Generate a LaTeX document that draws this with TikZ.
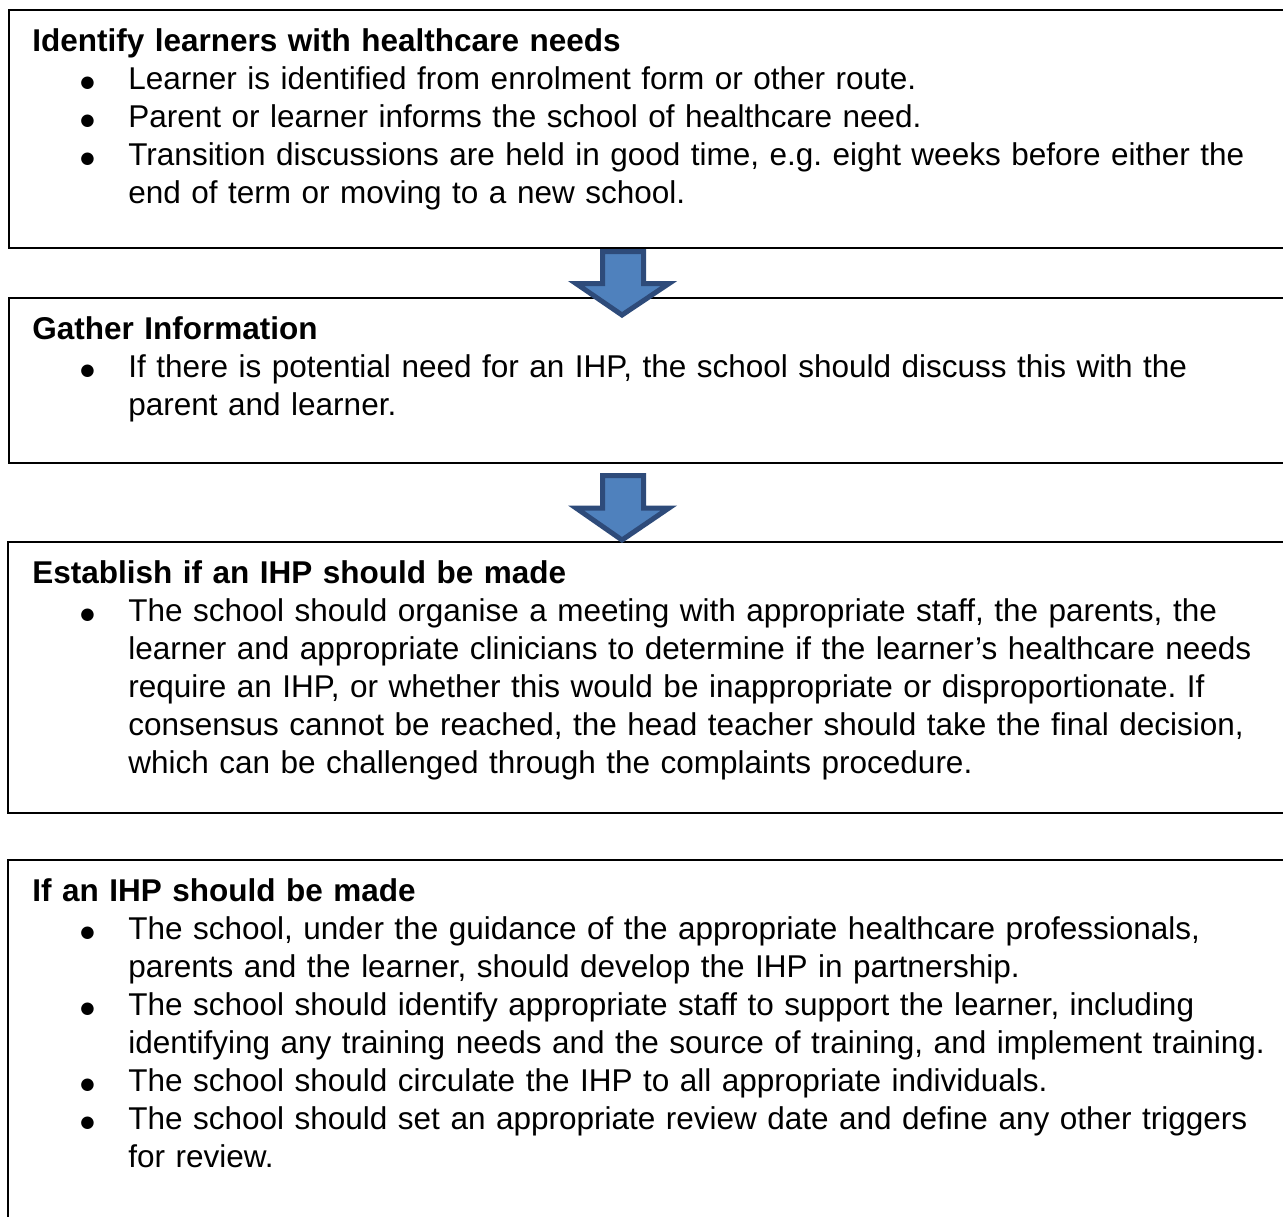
\documentclass[tikz,border=0pt]{standalone}
\usepackage{fontspec}
\setmainfont{Liberation Sans}
\newfontfamily\dotfont{DejaVu Sans}
\usepackage{tikz}

\definecolor{arrowfill}{HTML}{4F81BD}
\definecolor{arrowline}{HTML}{2E4B7A}

\newcommand{\bitem}{\hspace*{24pt}\makebox[24pt][l]{\raisebox{1pt}{\dotfont\fontsize{8.2}{9}\selectfont ●}}}
\newcommand{\bcont}{\hspace*{48pt}}

\tikzset{
    panel/.style={draw=black, line width=1pt},
    boxtext/.style={anchor=base west, inner sep=0pt, text width=640pt, align=left,
        font=\fontsize{15.75}{19}\selectfont\frenchspacing},
    blockarrow/.style={draw=arrowline, fill=arrowfill, line width=2.5pt, line join=miter}
}

\begin{document}
\begin{tikzpicture}[x=0.5pt, y=-0.5pt]
    \useasboundingbox (0,0) rectangle (1283,1216);
    \fill[white] (0,0) rectangle (1283,1216);
    \clip (0,0) rectangle (1283,1216);

    % Boxes
    \draw[panel] (9,10)  rectangle (1300,248);
    \draw[panel] (9,298) rectangle (1300,463);
    \draw[panel] (8,542) rectangle (1300,813);
    \draw[panel] (8,860) rectangle (1300,1300);

    % Texts
    \node[boxtext] (identify) at (32,51) {%
        \textbf{Identify learners with healthcare needs}\\
        \bitem Learner is identified from enrolment form or other route.\\
        \bitem Parent or learner informs the school of healthcare need.\\
        \bitem Transition discussions are held in good time, e.g. eight weeks before either the\\
        \bcont end of term or moving to a new school.};

    \node[boxtext] (gather) at (32,339) {%
        \textbf{Gather Information}\\
        \bitem If there is potential need for an IHP, the school should discuss this with the\\
        \bcont parent and learner.};

    \node[boxtext] (establish) at (32,583) {%
        \textbf{Establish if an IHP should be made}\\
        \bitem The school should organise a meeting with appropriate staff, the parents, the\\
        \bcont learner and appropriate clinicians to determine if the learner’s healthcare needs\\
        \bcont require an IHP, or whether this would be inappropriate or disproportionate. If\\
        \bcont consensus cannot be reached, the head teacher should take the final decision,\\
        \bcont which can be challenged through the complaints procedure.};

    \node[boxtext] (ihpmade) at (32,901) {%
        \textbf{If an IHP should be made}\\
        \bitem The school, under the guidance of the appropriate healthcare professionals,\\
        \bcont parents and the learner, should develop the IHP in partnership.\\
        \bitem The school should identify appropriate staff to support the learner, including\\
        \bcont identifying any training needs and the source of training, and implement training.\\
        \bitem The school should circulate the IHP to all appropriate individuals.\\
        \bitem The school should set an appropriate review date and define any other triggers\\
        \bcont for review.};

    % Arrows
    \foreach \t/\h/\p in {251.5/283.5/315, 475.5/508/540}
        \draw[blockarrow] (602.5,\t) -- (643.5,\t) -- (643.5,\h) -- (669,\h)
            -- (622,\p) -- (576,\h) -- (602.5,\h) -- cycle;

\end{tikzpicture}
\end{document}
